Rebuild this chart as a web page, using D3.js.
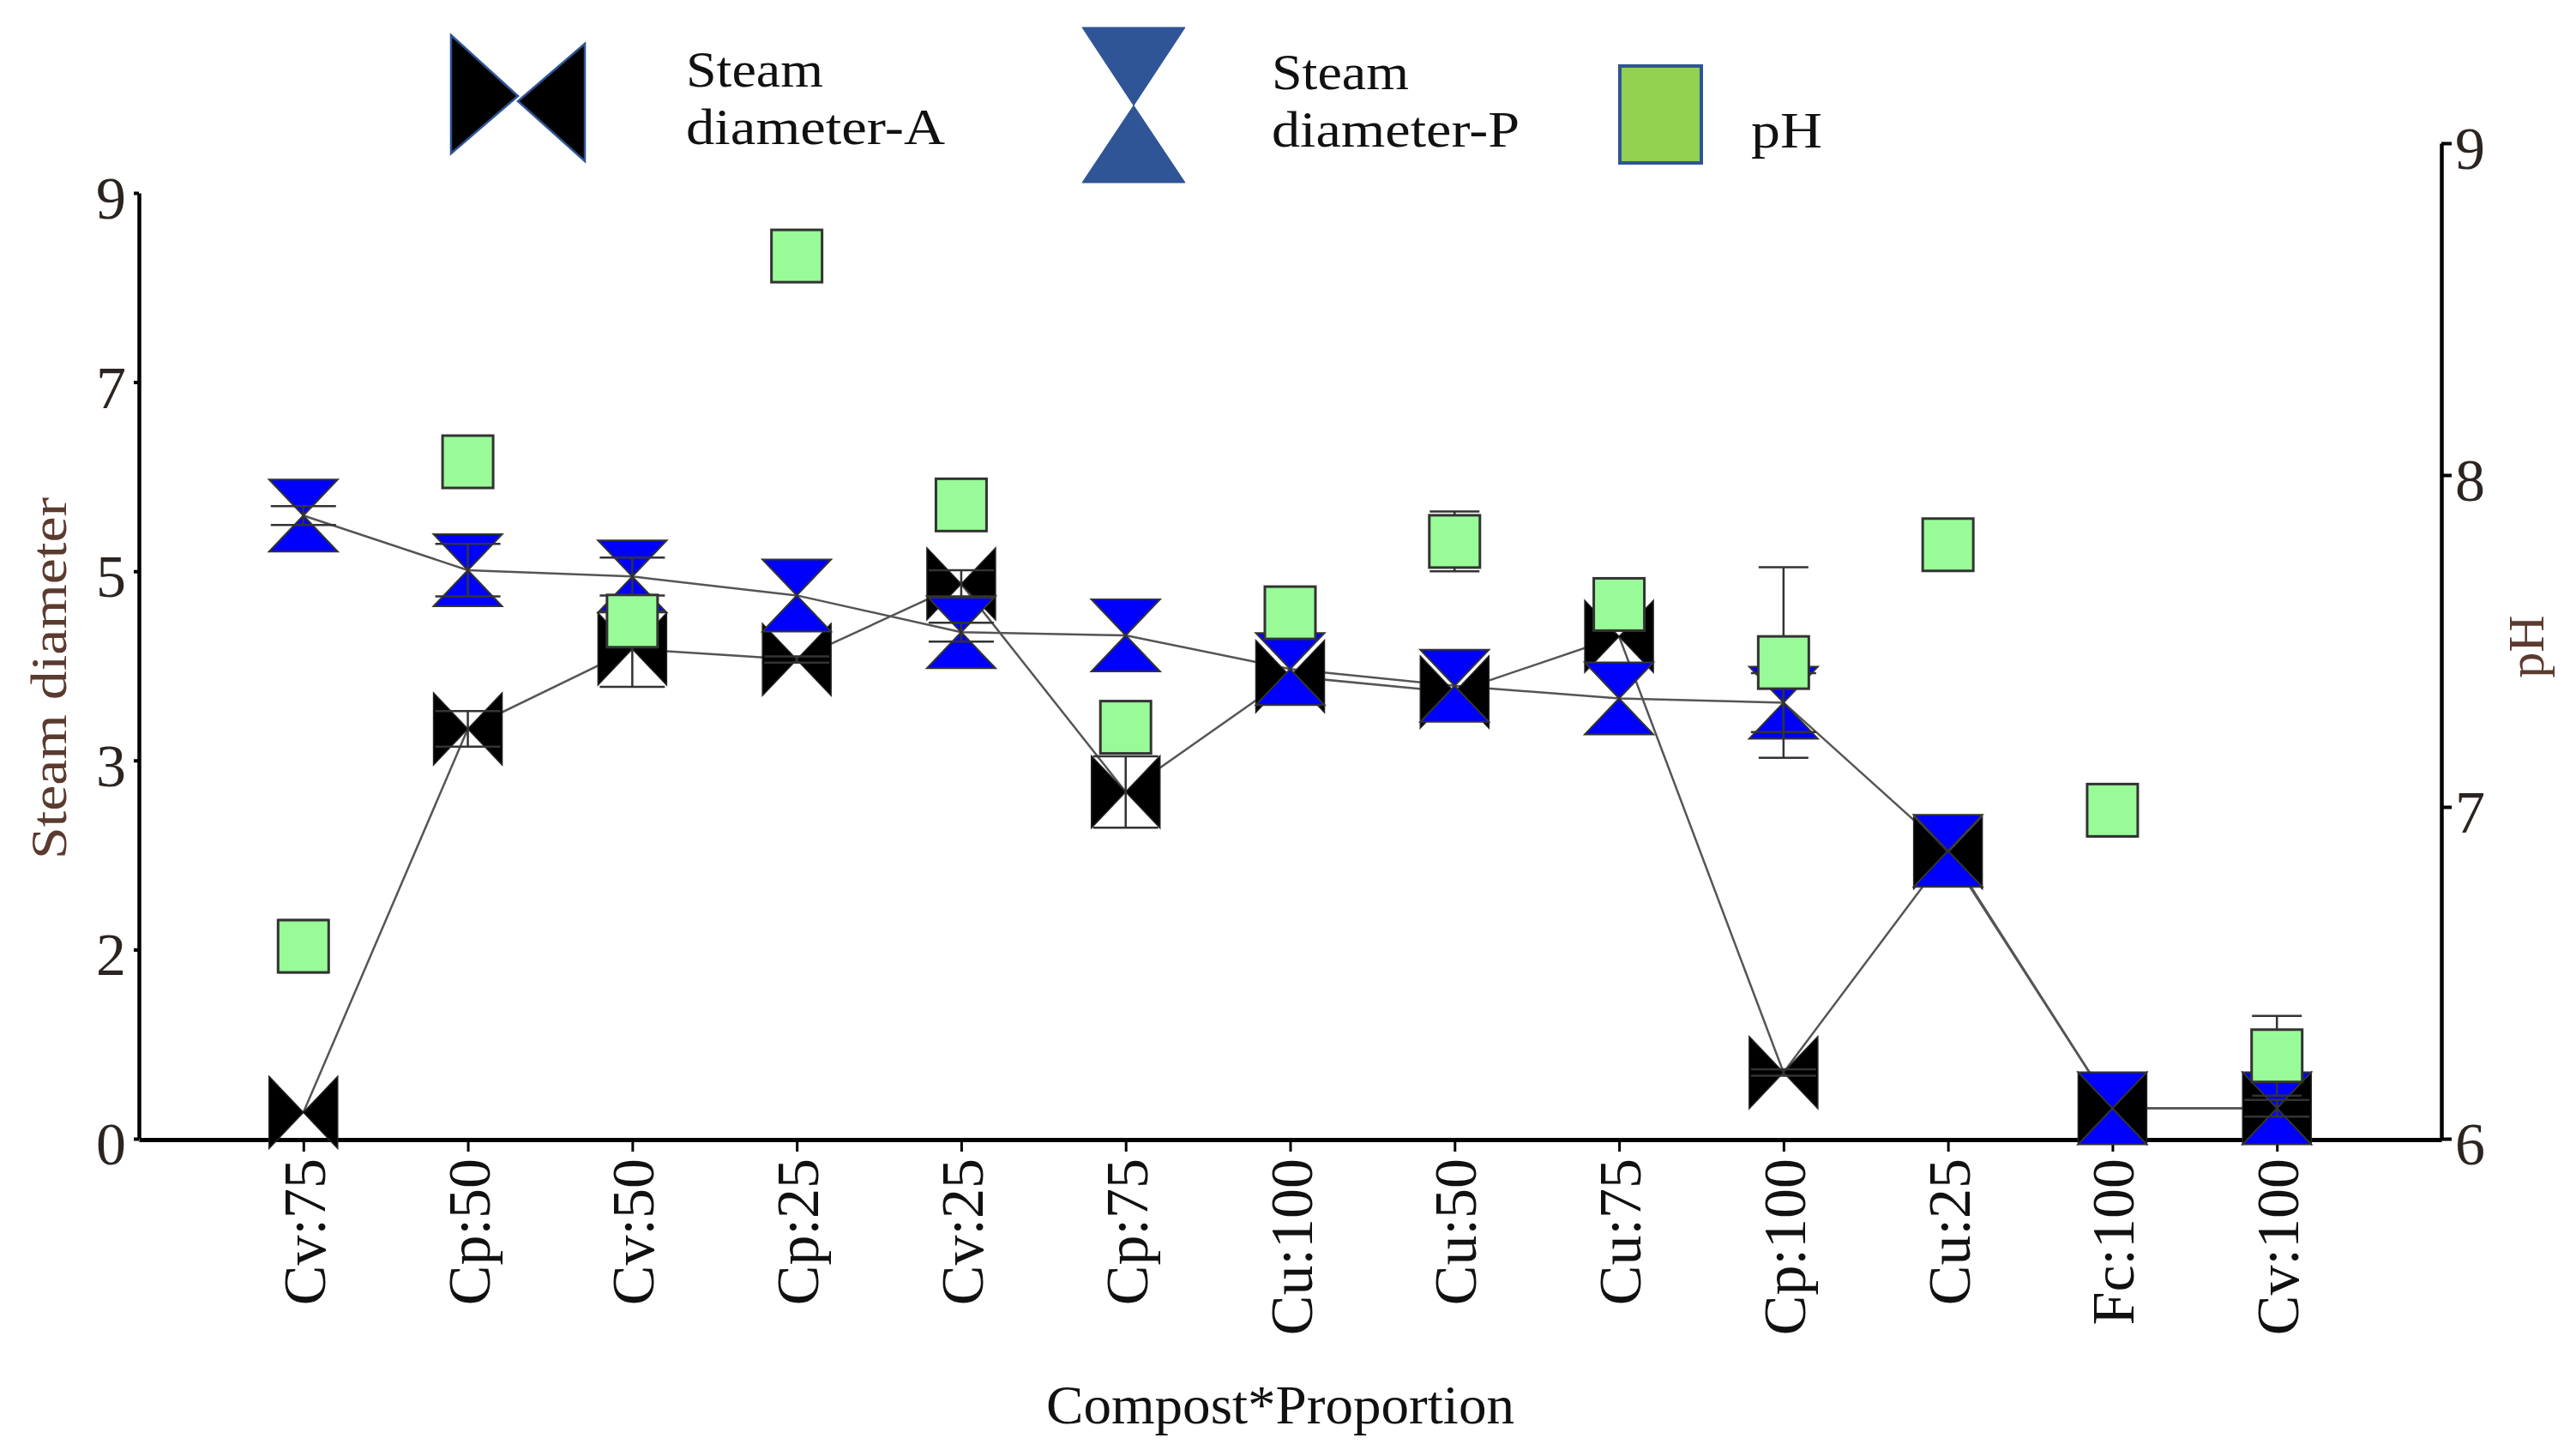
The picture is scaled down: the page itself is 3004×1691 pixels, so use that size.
<!DOCTYPE html>
<html>
<head>
<meta charset="utf-8">
<script src="https://cdn.jsdelivr.net/npm/d3@7"></script>
<style>
  html, body { margin: 0; padding: 0; background: #fff; }
  svg { display: block; }
  text { font-family: "Liberation Serif", "Times New Roman", serif; }
</style>
</head>
<body>
<svg id="chart" width="3004" height="1691"></svg>
<script>
// ---------------- data ----------------
const categories = ["Cv:75","Cp:50","Cv:50","Cp:25","Cv:25","Cp:75","Cu:100","Cu:50","Cu:75","Cp:100","Cu:25","Fc:100","Cv:100"];
const diamA  = [0.25, 3.90, 4.66, 4.56, 5.28, 3.30, 4.40, 4.25, 4.78, 0.63, 2.72, 0.29, 0.29];
const errA   = [0,    0.17, 0.36, 0.03, 0.13, 0.34, 0,    0,    0,    0.03, 0,    0,    0];
const diamP  = [5.93, 5.41, 5.35, 5.17, 4.82, 4.79, 4.47, 4.31, 4.19, 4.15, 2.74, 0.29, 0.29];
const errP   = [0.09, 0.25, 0.18, 0,    0.09, 0,    0,    0,    0,    0.28, 0,    0,    0.08];
const pH     = [6.58, 8.04, 7.56, 8.66, 7.91, 7.24, 7.585, 7.80, 7.61, 7.435, 7.79, 6.99, 6.25];
const errPH  = [0.079, 0,   0,    0,    0,    0,    0,    0.09, 0,    0.287, 0,    0.079, 0.12];

const leftTickValues  = [0, 1.8, 3.6, 5.4, 7.2, 9];
const leftTickLabels  = ["0", "2", "3", "5", "7", "9"];
const rightTickValues = [6, 7, 8, 9];
const rightTickLabels = ["6", "7", "8", "9"];

const legendLabels = [["Steam", "diameter-A"], ["Steam", "diameter-P"], ["pH"]];
const xTitle = "Compost*Proportion";
const yLeftTitle = "Steam diameter";
const yRightTitle = "pH";

// ---------------- layout ----------------
const svg = d3.select("#chart");
svg.append("rect").attr("width", 3004).attr("height", 1691).attr("fill", "#fff");

const X0 = 162, X1 = 2847, YB = 1328;
const x = d3.scalePoint().domain(categories).range([X0, X1]).padding(1);
const yL = d3.scaleLinear().domain([0, 9]).range([YB, 225]);
const yR = d3.scaleLinear().domain([6, 9]).range([YB, 167]);

const tickColor = "#2b2420";
const titleColor = "#5b3b2f";

// bottom axis
const gx = svg.append("g").attr("transform", `translate(0,${YB + 1})`)
  .call(d3.axisBottom(x).tickSize(14).tickSizeOuter(0).tickPadding(0));
gx.select(".domain").attr("stroke", "#000").attr("stroke-width", 5);
gx.selectAll(".tick line").attr("stroke", "#000").attr("stroke-width", 3);
gx.selectAll(".tick text")
  .attr("transform", "rotate(-90)")
  .attr("x", -22).attr("y", 0).attr("dy", "0.35em")
  .attr("text-anchor", "end")
  .attr("fill", "#111")
  .style("font-size", "70px")
  .style("font-family", "Liberation Serif, serif");

// left axis
const gl = svg.append("g").attr("transform", `translate(${X0},0)`)
  .call(d3.axisLeft(yL).tickValues(leftTickValues)
    .tickFormat((d, i) => leftTickLabels[i]).tickSize(6).tickSizeOuter(0).tickPadding(9));
gl.select(".domain").attr("stroke", "#000").attr("stroke-width", 4.5);
gl.selectAll(".tick line").attr("stroke", "#000").attr("stroke-width", 4);
gl.selectAll(".tick text").attr("fill", tickColor).attr("dy", "0.42em")
  .style("font-size", "70px").style("font-family", "Liberation Serif, serif");

// right axis
const gr = svg.append("g").attr("transform", `translate(${X1},0)`)
  .call(d3.axisRight(yR).tickValues(rightTickValues)
    .tickFormat((d, i) => rightTickLabels[i]).tickSize(12).tickSizeOuter(0).tickPadding(4));
gr.select(".domain").attr("stroke", "#000").attr("stroke-width", 4.5);
gr.selectAll(".tick line").attr("stroke", "#000").attr("stroke-width", 4);
gr.selectAll(".tick text").attr("fill", tickColor).attr("dy", "0.42em")
  .style("font-size", "70px").style("font-family", "Liberation Serif, serif");

// axis titles
svg.append("text").attr("transform", `translate(1493,1660)`)
  .attr("text-anchor", "middle").attr("fill", "#111")
  .attr("textLength", 546).attr("lengthAdjust", "spacingAndGlyphs")
  .style("font-size", "64px").text(xTitle);
svg.append("text").attr("transform", `translate(77,791) rotate(-90)`)
  .attr("text-anchor", "middle").attr("fill", titleColor)
  .attr("textLength", 422).attr("lengthAdjust", "spacingAndGlyphs")
  .style("font-size", "60px").text(yLeftTitle);
svg.append("text").attr("transform", `translate(2966,754) rotate(-90)`)
  .attr("text-anchor", "middle").attr("fill", titleColor)
  .style("font-size", "60px").text(yRightTitle);

// ---------------- marks ----------------
const rows = categories.map((c, i) => ({
  c, a: diamA[i], ea: errA[i], p: diamP[i], ep: errP[i], ph: pH[i], eph: errPH[i]
}));

const lineA = d3.line().x(d => x(d.c)).y(d => yL(d.a));
const lineP = d3.line().x(d => x(d.c)).y(d => yL(d.p));
svg.append("path").datum(rows).attr("d", lineA)
  .attr("fill", "none").attr("stroke", "#555").attr("stroke-width", 2.5);
svg.append("path").datum(rows).attr("d", lineP)
  .attr("fill", "none").attr("stroke", "#555").attr("stroke-width", 2.5);

const HW = 40, HH = 42;
function bowtie(cx, cy) {
  return `M${cx - HW},${cy - HH}L${cx},${cy}L${cx - HW},${cy + HH}Z` +
         `M${cx + HW},${cy - HH}L${cx},${cy}L${cx + HW},${cy + HH}Z`;
}
function hourglass(cx, cy) {
  return `M${cx - HW},${cy - HH}L${cx + HW},${cy - HH}L${cx},${cy}Z` +
         `M${cx - HW},${cy + HH}L${cx + HW},${cy + HH}L${cx},${cy}Z`;
}

svg.append("g").selectAll("path").data(rows).join("path")
  .attr("d", d => bowtie(x(d.c), yL(d.a)))
  .attr("fill", "#000").attr("stroke", "#222").attr("stroke-width", 1.5)
  .attr("stroke-linejoin", "miter");

svg.append("g").selectAll("path").data(rows).join("path")
  .attr("d", d => hourglass(x(d.c), yL(d.p)))
  .attr("fill", "#0000ff").attr("stroke", "#333").attr("stroke-width", 2);

function errorBars(data, getV, getE, scale, capHalf, cls) {
  const g = svg.append("g").attr("class", cls)
    .attr("stroke", "#333").attr("stroke-width", 2.5).attr("fill", "none");
  const f = data.filter(d => getE(d) > 0);
  g.selectAll("path").data(f).join("path")
    .attr("d", d => {
      const cx = x(d.c), top = scale(getV(d) + getE(d)), bot = scale(getV(d) - getE(d));
      return `M${cx},${top}L${cx},${bot}` +
             `M${cx - capHalf},${top}L${cx + capHalf},${top}` +
             `M${cx - capHalf},${bot}L${cx + capHalf},${bot}`;
    });
}
errorBars(rows, d => d.a, d => d.ea, yL, 38, "errA");
errorBars(rows, d => d.p, d => d.ep, yL, 38, "errP");
errorBars(rows, d => d.ph, d => d.eph, yR, 29, "errPH");

svg.append("g").selectAll("rect").data(rows).join("rect")
  .attr("x", d => x(d.c) - 29.5).attr("y", d => yR(d.ph) - 30.5)
  .attr("width", 59).attr("height", 61)
  .attr("fill", "#98fb98").attr("stroke", "#333").attr("stroke-width", 3);

// ---------------- legend ----------------
const lg = svg.append("g");
lg.append("path")
  .attr("d", "M526,41L604,112L526,179Z M682,51L604,118L682,188Z")
  .attr("fill", "#000").attr("stroke", "#2f5597").attr("stroke-width", 2.5);
lg.append("path")
  .attr("d", "M1262,32L1382,32L1322,123Z M1322,123L1382,213L1262,213Z")
  .attr("fill", "#2f5597").attr("stroke", "#2f5597").attr("stroke-width", 1);
lg.append("rect").attr("x", 1889).attr("y", 77).attr("width", 95).attr("height", 113)
  .attr("fill", "#92d050").attr("stroke", "#2f5597").attr("stroke-width", 4);

const legText = [
  { x: 800, lines: [{ t: legendLabels[0][0], y: 101, w: 160 }, { t: legendLabels[0][1], y: 168, w: 302 }] },
  { x: 1483, lines: [{ t: legendLabels[1][0], y: 104, w: 160 }, { t: legendLabels[1][1], y: 171, w: 289 }] },
  { x: 2042, lines: [{ t: legendLabels[2][0], y: 172, w: 83 }] }
];
legText.forEach(L => L.lines.forEach(l => {
  lg.append("text").attr("x", L.x).attr("y", l.y).attr("fill", "#111")
    .attr("textLength", l.w).attr("lengthAdjust", "spacingAndGlyphs")
    .style("font-size", "60px").text(l.t);
}));
</script>
</body>
</html>
